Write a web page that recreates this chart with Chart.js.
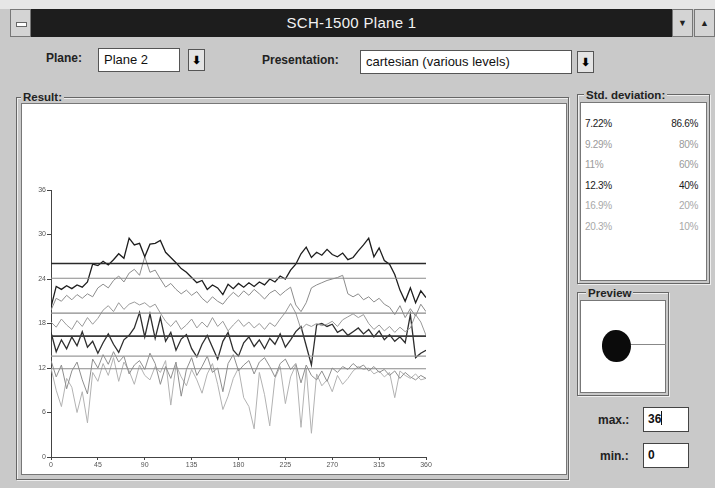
<!DOCTYPE html>
<html>
<head>
<meta charset="utf-8">
<script src="https://cdn.jsdelivr.net/npm/chart.js@4/dist/chart.umd.min.js"></script>
<style>
  html, body { margin: 0; padding: 0; }
  body {
    width: 715px; height: 488px; position: relative; overflow: hidden;
    background: #c9c9c9; font-family: "Liberation Sans", Arial, sans-serif;
  }
  .abs { position: absolute; }
  .topstrip { left: 0; top: 0; width: 715px; height: 9px; background: #e6e6e6; }
  .sysbox { left: 10px; top: 9px; width: 21px; height: 28px; background: #d4d4d4; border: 1px solid #777; box-sizing: border-box; }
  .sysbox:after { content: ""; position: absolute; left: 5px; top: 12px; width: 9px; height: 3px; background: #fff; border: 1px solid #666; }
  .titlebar { left: 31px; top: 9px; width: 641px; height: 28px; background: #1d1d1d; color: #f2f2f2;
    font-size: 15px; text-align: center; line-height: 28px; letter-spacing: 0.3px; }
  .btn { width: 21px; height: 28px; top: 9px; background: #d4d4d4; border: 1px solid #777; box-sizing: border-box;
    font-size: 9px; text-align: center; line-height: 26px; color: #222; }
  .lbl { font-weight: bold; font-size: 12px; color: #222; }
  .box { background: #fff; border: 1px solid #555; box-sizing: border-box; font-size: 13px; color: #111;
    padding-left: 5px; line-height: 22px; }
  .drop { background: #e4e4e4; border: 1px solid #555; box-sizing: border-box; font-size: 11px; text-align: center;
    line-height: 20px; font-weight: bold; }
  .group { border: 1px solid #666; box-sizing: border-box; box-shadow: inset 1px 1px 0 #eee, 1px 1px 0 #eee; }
  .glbl { background: #c9c9c9; font-weight: bold; font-size: 11.5px; color: #222; padding: 0 2px; }
  .white { background: #fff; border: 1px solid #777; box-sizing: border-box; }
  .sd { font-size: 10px; letter-spacing: -0.3px; }
  .inbox { background: #fff; border: 1px solid #444; box-sizing: border-box; font-size: 12px; font-weight: bold;
    padding-left: 4px; line-height: 22px; color: #111; }
</style>
</head>
<body>
<div class="abs topstrip"></div>
<div class="abs sysbox"></div>
<div class="abs titlebar">SCH-1500 Plane 1</div>
<div class="abs btn" style="left:672px">&#9660;</div>
<div class="abs btn" style="left:694px">&#9650;</div>

<div class="abs lbl" style="left:46px;top:51px">Plane:</div>
<div class="abs box" style="left:98px;top:48px;width:82px;height:24px">Plane 2</div>
<div class="abs drop" style="left:188px;top:49px;width:17px;height:22px">&#11015;</div>
<div class="abs lbl" style="left:262px;top:53px">Presentation:</div>
<div class="abs box" style="left:360px;top:50px;width:212px;height:24px">cartesian (various levels)</div>
<div class="abs drop" style="left:577px;top:51px;width:17px;height:22px">&#11015;</div>

<div class="abs group" style="left:16px;top:97px;width:553px;height:383px"></div>
<div class="abs white" style="left:21px;top:103px;width:546px;height:372px"></div>
<div class="abs glbl" style="left:21px;top:91px">Result:</div>
<canvas id="result_chart" class="abs" style="left:22px;top:104px" width="544" height="369"></canvas>

<div class="abs group" style="left:577px;top:94px;width:133px;height:190px"></div>
<div class="abs white" style="left:580px;top:102px;width:127px;height:179px"></div>
<div class="abs glbl" style="left:584px;top:89px">Std. deviation:</div>
<div id="sd_rows"></div>

<div class="abs group" style="left:577px;top:292px;width:92px;height:104px"></div>
<div class="abs white" style="left:580px;top:300px;width:86px;height:93px"></div>
<div class="abs glbl" style="left:586px;top:287px">Preview</div>
<div class="abs" style="left:616px;top:344px;width:50px;height:1px;background:#888"></div>
<div class="abs" style="left:602px;top:330px;width:29px;height:32px;border-radius:48% 52% 50% 50%;background:#0b0b0b"></div>

<div class="abs lbl" style="left:598px;top:413px">max.:</div>
<div class="abs inbox" style="left:643px;top:407px;width:46px;height:25px">36<span style="display:inline-block;width:1px;height:14px;background:#111;vertical-align:-2px"></span></div>
<div class="abs lbl" style="left:600px;top:449px">min.:</div>
<div class="abs inbox" style="left:643px;top:443px;width:46px;height:25px">0</div>

<script>
// angle positions (degrees) and the six measured curves
const angles = [0, 5, 10, 15, 20, 25, 30, 35, 40, 45, 50, 55, 60, 65, 70, 75, 80, 85, 90, 95,
  100, 105, 110, 115, 120, 125, 130, 135, 140, 145, 150, 155, 160, 165, 170, 175, 180, 185, 190, 195,
  200, 205, 210, 215, 220, 225, 230, 235, 240, 245, 250, 255, 260, 265, 270, 275, 280, 285, 290, 295,
  300, 305, 310, 315, 320, 325, 330, 335, 340, 345, 350, 355, 360];

const level1 = [20.2, 23.0, 22.6, 23.1, 22.7, 23.2, 22.9, 23.6, 26.0, 25.8, 26.4, 25.9, 26.6, 27.4, 26.8, 29.5,
  28.6, 28.8, 27.0, 28.7, 28.8, 29.2, 27.6, 26.9, 26.2, 25.4, 24.9, 24.2, 23.5, 23.8, 22.6, 23.2, 22.8, 21.9,
  23.3, 22.7, 23.4, 22.9, 23.5, 23.0, 23.6, 23.2, 24.0, 23.6, 24.4, 24.0, 25.2, 26.0, 27.4, 28.3, 26.9, 27.6,
  27.2, 28.0, 27.3, 27.0, 27.5, 26.6, 26.9, 27.8, 28.6, 29.5, 27.0, 28.2, 26.5, 26.0, 24.6, 22.5, 21.0, 22.8,
  20.8, 22.4, 21.5];
const level2 = [19.8, 21.4, 21.0, 21.8, 21.2, 21.9, 21.4, 22.0, 21.6, 22.8, 23.3, 22.8, 23.8, 24.4, 23.6, 24.8,
  25.3, 24.5, 27.0, 24.9, 25.2, 24.0, 22.9, 23.4, 22.6, 22.0, 22.5, 21.8, 22.3, 21.4, 20.8, 21.6, 21.0, 20.6,
  21.5, 22.2, 21.6, 22.4, 21.8, 22.6, 22.0, 21.3, 22.1, 22.5, 21.8, 22.4, 22.9, 20.5, 19.6, 20.8, 22.8, 23.2,
  23.5, 23.8, 24.0, 24.2, 24.5, 22.0, 21.6, 22.0, 21.2, 21.6, 20.9, 21.4, 20.6, 20.2, 19.2, 20.4, 18.8, 20.0,
  19.0, 20.6, 19.6];
const level3 = [18.2, 17.5, 18.6, 17.8, 17.2, 18.4, 17.6, 18.8, 17.9, 18.7, 19.8, 20.4, 19.6, 20.8, 19.9, 20.6,
  20.9, 20.5, 20.8, 20.2, 20.6, 19.4, 18.3, 17.6, 18.4, 17.2, 17.8, 18.6, 17.4, 18.2, 17.5, 18.8, 17.6, 18.3,
  17.0, 17.8, 18.5, 17.6, 18.2, 17.4, 18.0, 17.2, 18.1, 17.6, 18.6, 19.5, 20.7, 19.4, 17.2, 17.9, 17.6, 18.0,
  17.7, 17.9, 18.3, 17.6, 18.5, 18.9, 19.3, 18.8, 19.2, 18.0, 17.2, 17.8, 17.0, 17.6, 16.8, 17.5, 16.9, 17.4,
  19.2, 18.2, 16.4];
const level4 = [16.8, 14.2, 15.8, 14.6, 16.2, 15.0, 16.9, 14.8, 15.6, 14.0, 15.4, 16.6, 15.2, 14.1, 15.8, 16.4,
  17.4, 19.5, 16.2, 19.3, 16.0, 18.8, 15.6, 16.8, 14.4, 15.9, 16.5, 14.6, 13.5, 15.2, 16.4, 14.8, 13.2, 15.6,
  16.8, 14.4, 13.6, 15.4, 16.2, 14.9, 15.8, 14.6, 16.0, 15.2, 16.6, 14.8, 15.8, 16.9, 17.6, 15.0, 12.4, 17.8,
  18.0, 17.6, 17.9, 16.8, 17.2, 16.4, 16.9, 17.4, 16.6, 17.2, 16.2, 17.0, 15.8, 16.5, 15.6, 16.2, 15.4, 19.2,
  13.4, 14.0, 14.4];
const level5 = [13.0, 10.8, 12.4, 9.2, 11.6, 12.8, 10.4, 8.5, 13.2, 12.0, 13.8, 12.5, 14.2, 12.8, 13.6, 11.2,
  12.4, 13.0, 11.8, 14.0, 12.6, 9.8, 12.2, 10.6, 12.8, 8.2, 11.8, 13.4, 11.0, 12.2, 13.6, 11.4, 12.0, 8.8,
  12.6, 13.8, 11.6, 12.4, 13.0, 11.2, 12.8, 13.4, 12.2, 10.8, 12.6, 13.2, 11.8, 12.6, 10.0, 12.4, 11.0, 10.4,
  11.6, 10.2, 12.0, 11.4, 12.2, 11.8, 12.6, 12.0, 12.4, 11.6, 12.2, 11.4, 11.8, 11.0, 11.6, 10.6, 11.4, 10.8,
  10.4, 11.0, 10.6];
const level6 = [12.0, 9.0, 6.8, 10.6, 9.4, 6.0, 8.8, 4.6, 11.4, 10.2, 12.6, 11.0, 13.4, 10.2, 12.8, 11.6,
  9.8, 12.4, 11.0, 10.4, 12.2, 11.4, 13.0, 7.0, 12.4, 10.8, 9.6, 11.8, 10.4, 8.6, 11.2, 12.6, 9.8, 6.4,
  8.2, 10.6, 12.0, 8.0, 6.8, 3.8, 11.4, 8.4, 4.2, 10.6, 12.2, 7.2, 10.8, 12.4, 4.0, 12.0, 3.2, 11.2,
  9.6, 10.4, 8.8, 11.0, 9.8, 10.6, 11.6, 12.2, 11.8, 12.0, 11.2, 11.6, 10.8, 11.4, 8.0, 11.6, 11.0, 10.6,
  11.2, 10.4, 10.6];

// horizontal reference levels
const levelLines = [26.1, 24.1, 19.4, 16.3, 13.6, 11.9];
const levelLineColors = ['#2a2a2a', '#8a8a8a', '#8a8a8a', '#3a3a3a', '#9a9a9a', '#8a8a8a'];

// std. deviation panel
const stdDevs = ['7.22%', '9.29%', '11%', '12.3%', '16.9%', '20.3%'];
const stdPercents = ['86.6%', '80%', '60%', '40%', '20%', '10%'];
const stdColors = ['#1a1a1a', '#9a9a9a', '#9a9a9a', '#1a1a1a', '#a8a8a8', '#a8a8a8'];

const curves = [level1, level2, level3, level4, level5, level6];
const curveColors = ['#1e1e1e', '#8c8c8c', '#9a9a9a', '#2e2e2e', '#8e8e8e', '#b2b2b2'];

const rows = document.getElementById('sd_rows');
rows.innerHTML = stdDevs.map((sd, i) => {
  const top = 118 + i * 20.5;
  return `<div class="abs sd" style="left:585px;top:${top}px;color:${stdColors[i]}">${sd}</div>` +
    `<div class="abs sd" style="left:650px;width:48px;text-align:right;top:${top}px;color:${stdColors[i]}">${stdPercents[i]}</div>`;
}).join('');

const datasets = [];
levelLines.forEach((v, i) => {
  datasets.push({
    data: [{ x: 0, y: v }, { x: 360, y: v }],
    borderColor: levelLineColors[i],
    borderWidth: (i === 0 || i === 3) ? 1.6 : 1.2,
    pointRadius: 0
  });
});
curves.forEach((c, i) => {
  datasets.push({
    data: angles.map((a, j) => ({ x: a, y: c[j] })),
    borderColor: curveColors[i],
    borderWidth: (i === 0 || i === 3) ? 1.3 : 1,
    pointRadius: 0,
    tension: 0
  });
});

const tickFont = { family: 'Liberation Sans', size: 7 };

new Chart(document.getElementById('result_chart'), {
  type: 'line',
  data: { datasets: datasets },
  options: {
    responsive: false,
    animation: false,
    layout: { padding: { left: 0, right: 140, top: 86, bottom: 0 } },
    scales: {
      x: {
        type: 'linear',
        min: 0,
        max: 360,
        afterFit: scale => { scale.height = 16; },
        ticks: { stepSize: 45, font: tickFont, color: '#555', padding: 1, maxRotation: 0 },
        grid: { drawOnChartArea: false, tickLength: 3, color: '#444' },
        border: { color: '#444', width: 1 }
      },
      y: {
        min: 0,
        max: 36,
        afterFit: scale => { scale.width = 29; },
        ticks: { stepSize: 6, font: tickFont, color: '#555', padding: 1 },
        grid: { drawOnChartArea: false, tickLength: 4, color: '#444' },
        border: { color: '#444', width: 1 }
      }
    },
    plugins: {
      legend: { display: false },
      tooltip: { enabled: false }
    }
  }
});
</script>
</body>
</html>
